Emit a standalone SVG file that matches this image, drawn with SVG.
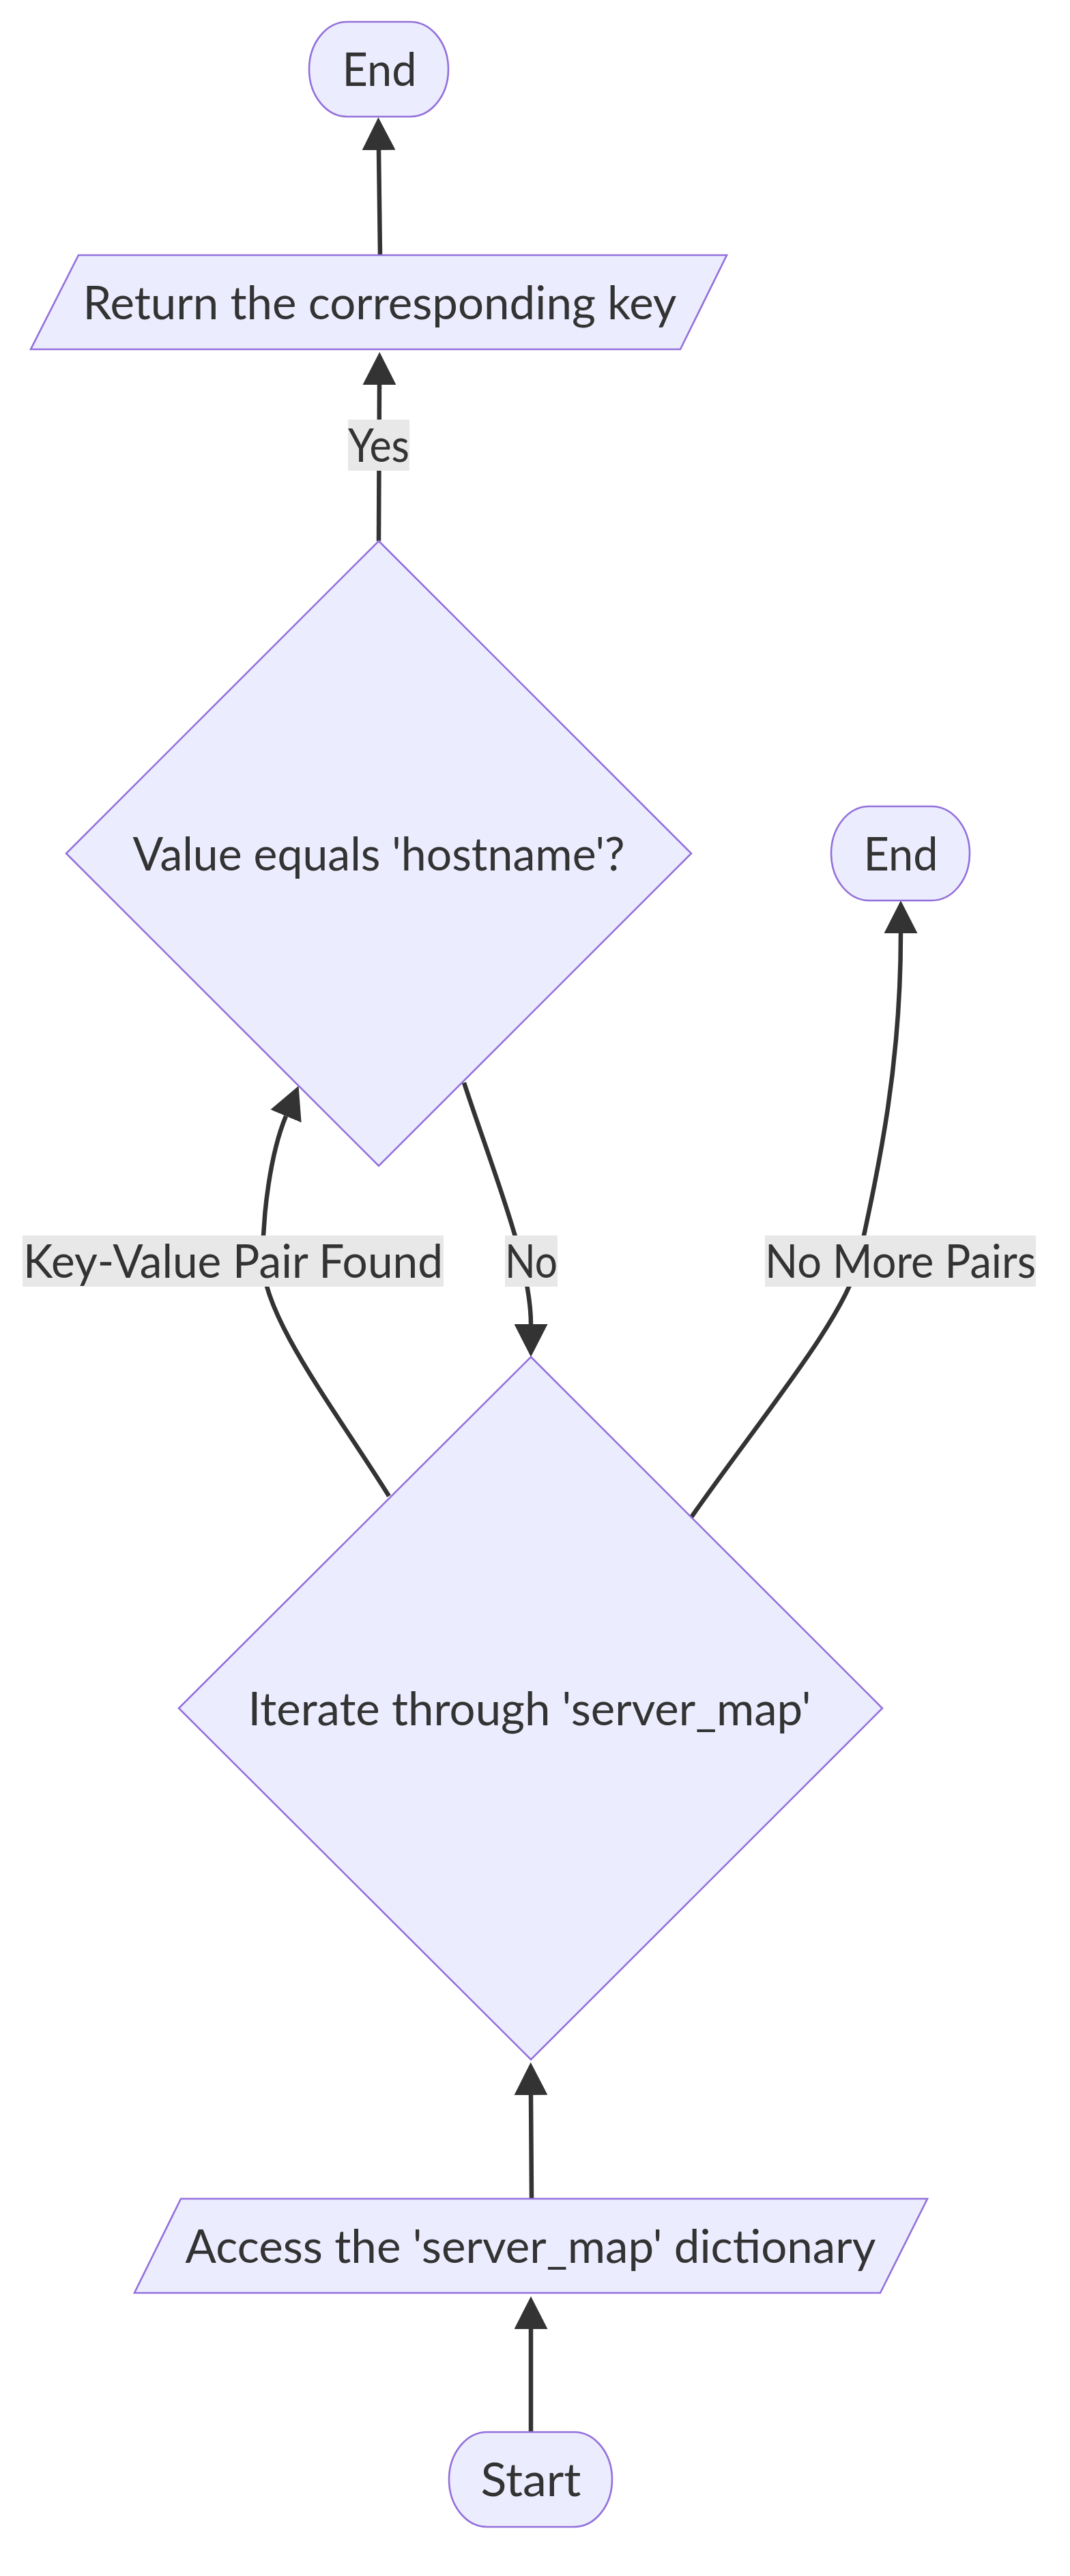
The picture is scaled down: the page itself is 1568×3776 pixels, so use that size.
<svg xmlns="http://www.w3.org/2000/svg" width="1568" height="3776" viewBox="0 0 1568 3776">
<style>
.node{fill:#ECECFF;stroke:#9370DB;stroke-width:2.6}
.lbl{font-family:Lato,"Open Sans","DejaVu Sans",sans-serif;font-size:67px;fill:#333333;text-anchor:middle}
.edge{fill:none;stroke:#333333;stroke-width:6.5}
.ebg{fill:#e8e8e8}
</style>
<defs>
<marker id="arrow" markerUnits="userSpaceOnUse" viewBox="0 0 48 49" markerWidth="48" markerHeight="49" refX="0" refY="24.5" orient="auto">
<path d="M0,0 L48,24.5 L0,49 z" fill="#333333"/>
</marker>
</defs>
<rect width="1568" height="3776" fill="#ffffff"/>
<g id="edges">
<path class="edge" d="M778,3565 L778,3414" marker-end="url(#arrow)"/>
<path class="edge" d="M779,3223 L778,3071" marker-end="url(#arrow)"/>
<path class="edge" d="M570,2193 C490,2065 385,1930 385,1848 C385,1780 396,1691 419,1636" marker-end="url(#arrow)"/>
<path class="edge" d="M680,1587 C720,1710 778,1850 778,1941" marker-end="url(#arrow)"/>
<path class="edge" d="M1013,2224 C1110,2085 1240,1930 1258,1848 C1290,1700 1320,1560 1320,1368" marker-end="url(#arrow)"/>
<path class="edge" d="M555,793 L556,564" marker-end="url(#arrow)"/>
<path class="edge" d="M557,374 L555,220" marker-end="url(#arrow)"/>
</g>
<g id="edge-labels">
<g id="label-yes"><rect class="ebg" x="510" y="615" width="90" height="75"/><text class="lbl" x="555" y="677" textLength="90" lengthAdjust="spacingAndGlyphs">Yes</text></g>
<g id="label-kv"><rect class="ebg" x="33" y="1811" width="617" height="75"/><text class="lbl" x="341.5" y="1873" textLength="615" lengthAdjust="spacingAndGlyphs">Key-Value Pair Found</text></g>
<g id="label-no"><rect class="ebg" x="740" y="1811" width="77" height="75"/><text class="lbl" x="778.5" y="1873" textLength="77" lengthAdjust="spacingAndGlyphs">No</text></g>
<g id="label-nomore"><rect class="ebg" x="1121" y="1811" width="397" height="75"/><text class="lbl" x="1319.5" y="1873" textLength="397" lengthAdjust="spacingAndGlyphs">No More Pairs</text></g>
</g>
<g id="end1">
<rect class="node" x="453" y="32" width="204" height="139" rx="56" ry="69.5"/>
<text class="lbl" x="556" y="126" textLength="109" lengthAdjust="spacingAndGlyphs">End</text>
</g>
<g id="return-key">
<polygon class="node" points="115,374 1065,374 997,512 45,512"/>
<text class="lbl" x="556.5" y="468" textLength="870" lengthAdjust="spacingAndGlyphs">Return the corresponding key</text>
</g>
<g id="value-check">
<polygon class="node" points="555,793 1013,1251 555,1709 97,1251"/>
<text class="lbl" x="555" y="1276" textLength="721" lengthAdjust="spacingAndGlyphs">Value equals 'hostname'?</text>
</g>
<g id="end2">
<rect class="node" x="1218" y="1182" width="203" height="138" rx="56" ry="69"/>
<text class="lbl" x="1320" y="1276" textLength="109" lengthAdjust="spacingAndGlyphs">End</text>
</g>
<g id="iterate">
<polygon class="node" points="778,1989 1293,2504 778,3019 262,2504"/>
<text class="lbl" x="776" y="2529" textLength="825" lengthAdjust="spacingAndGlyphs">Iterate through 'server_map'</text>
</g>
<g id="access">
<polygon class="node" points="265,3223 1359,3223 1290,3361 197,3361"/>
<text class="lbl" x="777.5" y="3317" textLength="1012" lengthAdjust="spacingAndGlyphs">Access the 'server_map' dictionary</text>
</g>
<g id="start">
<rect class="node" x="658" y="3565" width="239" height="139" rx="56" ry="69.5"/>
<text class="lbl" x="778" y="3659" textLength="147" lengthAdjust="spacingAndGlyphs">Start</text>
</g>
</svg>
